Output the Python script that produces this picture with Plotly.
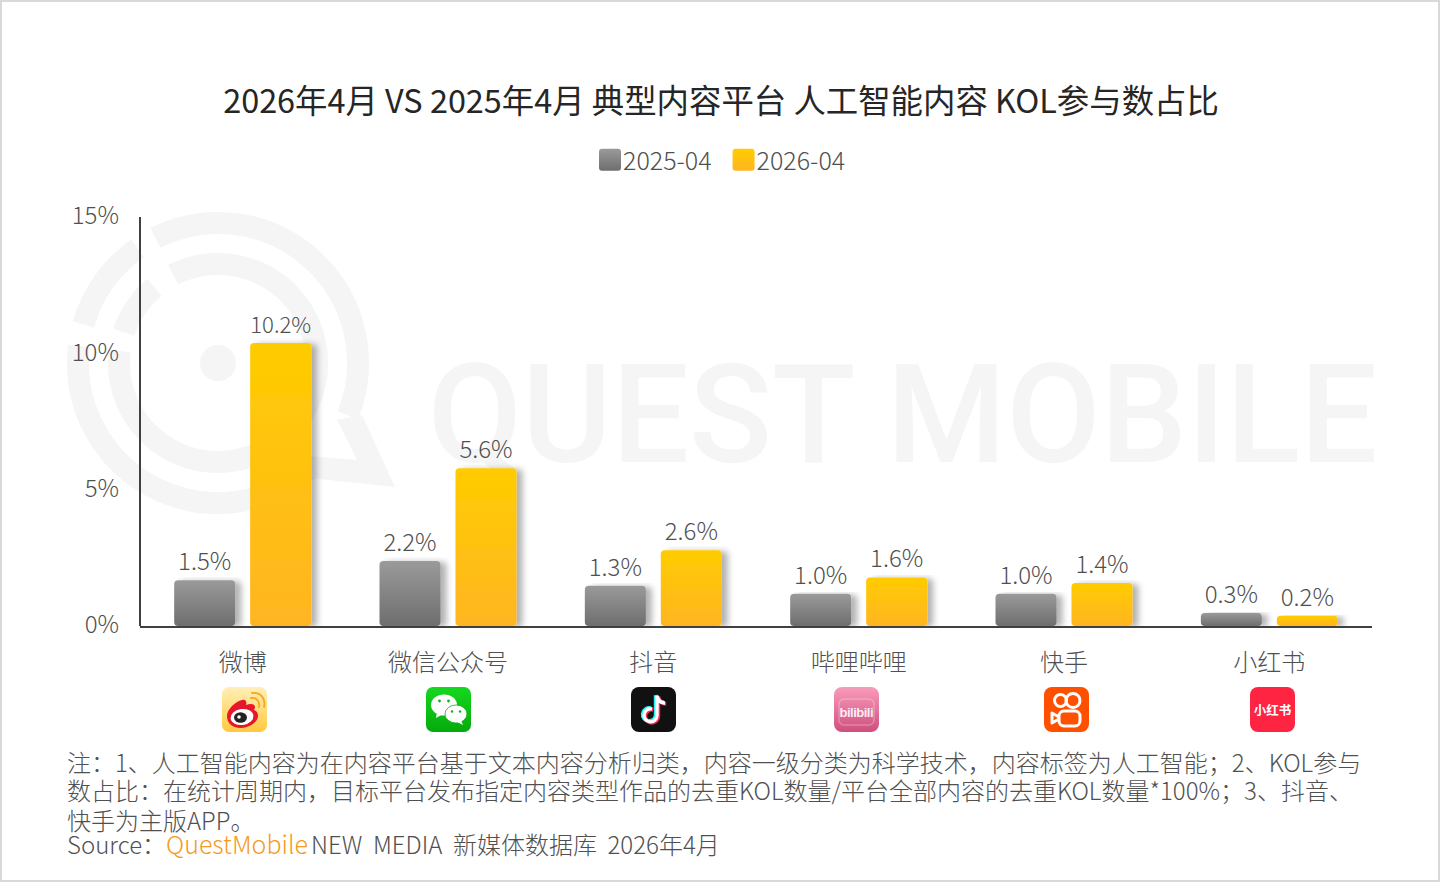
import base64
import math
import plotly.graph_objects as go

categories = ["微博", "微信公众号", "抖音", "哔哩哔哩", "快手", "小红书"]
values_2025 = [1.5, 2.2, 1.3, 1.0, 1.0, 0.3]
values_2026 = [10.2, 5.6, 2.6, 1.6, 1.4, 0.2]
series_names = ["2025-04", "2026-04"]
y_ticks = [0, 5, 10, 15]
y_tick_labels = ["0%", "5%", "10%", "15%"]

title_text = "2026年4月 VS 2025年4月 典型内容平台 人工智能内容 KOL参与数占比"
note_lines = [
    "注：1、人工智能内容为在内容平台基于文本内容分析归类，内容一级分类为科学技术，内容标签为人工智能；2、KOL参与",
    "数占比：在统计周期内，目标平台发布指定内容类型作品的去重KOL数量/平台全部内容的去重KOL数量*100%；3、抖音、",
    "快手为主版APP。",
]
source_parts = ["Source：", "QuestMobile", "NEW  MEDIA  新媒体数据库  2026年4月"]

W, H = 1440, 882
ML, MR, MT, MB = 140, 68, 212, 256
PW, PH = W - ML - MR, H - MT - MB
AXIS_FLOOR = -0.18
FONT = "Noto Sans CJK SC"
TXT = "#505050"


def px(x):
    return (x - ML) / PW


def py(y):
    return (H - MB - y) / PH


def uri(svg):
    return "data:image/svg+xml;base64," + base64.b64encode(svg.encode("utf-8")).decode()


def icon(body, defs=""):
    return uri(f'<svg xmlns="http://www.w3.org/2000/svg" width="180" height="180" viewBox="0 0 45 45"><defs>{defs}</defs>{body}</svg>')


icons = [
    icon('<rect width="45" height="45" rx="7" fill="url(#a)"/>'
         '<path d="M5 29c0-7 9-15 15-16 4-1 5 2 4 5 5-2 9-1 9 2 0 2-1 2-1 3 3 1 4 3 4 6 0 6-9 12-17 12-8 0-14-4-14-12z" fill="#E6162D"/>'
         '<ellipse cx="20" cy="30" rx="11.5" ry="8" fill="#fff" transform="rotate(-8 20 30)"/>'
         '<ellipse cx="18.5" cy="30.5" rx="6.5" ry="5.2" fill="#222"/><circle cx="17" cy="30" r="1.8" fill="#fff"/>'
         '<path d="M29 11c6-1 9 4 8 9M30 6c9-1 14 6 12 14" fill="none" stroke="#F5A623" stroke-width="1.8" stroke-linecap="round"/>',
         '<linearGradient id="a" x1="0" y1="0" x2="0" y2="1"><stop offset="0" stop-color="#FFEFB8"/><stop offset="1" stop-color="#FFC93C"/></linearGradient>'),
    icon('<rect width="45" height="45" rx="7" fill="url(#a)"/>'
         '<ellipse cx="18" cy="18" rx="13" ry="10.5" fill="#fff"/><path d="M11 25l-1 6 7-4z" fill="#fff"/>'
         '<ellipse cx="30" cy="27" rx="11" ry="9" stroke="#12B312" stroke-width="0.8" fill="#fff"/><path d="M35 33l2 5-6-3z" fill="#fff"/>'
         '<circle cx="13.5" cy="14" r="1.4" fill="#12B312"/><circle cx="22.5" cy="14" r="1.4" fill="#12B312"/>'
         '<circle cx="26" cy="24.5" r="1.2" fill="#12B312"/><circle cx="34" cy="24.5" r="1.2" fill="#12B312"/>',
         '<linearGradient id="a" x1="0" y1="0" x2="0" y2="1"><stop offset="0" stop-color="#16D81F"/><stop offset="1" stop-color="#04AA0C"/></linearGradient>'),
    icon('<rect width="45" height="45" rx="8" fill="#111"/>'
         '<path d="M21 22a6.5 6.5 0 1 0 5 6.5V9c1 4 4 7 8 7" fill="none" stroke="#25F4EE" stroke-width="4" transform="translate(-1.2 -0.8)"/>'
         '<path d="M21 22a6.5 6.5 0 1 0 5 6.5V9c1 4 4 7 8 7" fill="none" stroke="#FE2C55" stroke-width="4" transform="translate(1.2 0.8)"/>'
         '<path d="M21 22a6.5 6.5 0 1 0 5 6.5V9c1 4 4 7 8 7" fill="none" stroke="#fff" stroke-width="3.4"/>'),
    icon('<rect width="45" height="45" rx="8" fill="url(#a)"/>'
         '<rect x="5" y="12" width="35" height="26" rx="5" fill="none" stroke="#fff" stroke-opacity="0.25" stroke-width="1.5"/>'
         '<text x="22.5" y="30" text-anchor="middle" font-family="Liberation Sans" font-weight="bold" font-size="13" fill="#fff" fill-opacity="0.9" textLength="34">bilibili</text>',
         '<linearGradient id="a" x1="0" y1="0" x2="0" y2="1"><stop offset="0" stop-color="#F99BBB"/><stop offset="1" stop-color="#CF4F7E"/></linearGradient>'),
    icon('<rect width="45" height="45" rx="8" fill="#FF5000"/>'
         '<circle cx="16.5" cy="13.5" r="6" fill="none" stroke="#fff" stroke-width="3"/>'
         '<circle cx="29" cy="13.5" r="7" fill="none" stroke="#fff" stroke-width="3"/>'
         '<rect x="15" y="24" width="21" height="15" rx="5" fill="none" stroke="#fff" stroke-width="3"/>'
         '<path d="M15 30l-7-4v10l7-4" fill="none" stroke="#fff" stroke-width="3" stroke-linejoin="round"/>'),
    icon('<rect width="45" height="45" rx="8" fill="#FF2442"/>'
         '<text x="22.5" y="27.5" text-anchor="middle" font-family="Noto Sans CJK SC" font-weight="bold" font-size="12.5" fill="#fff">小红书</text>'),
]
icon_lefts = [222, 426, 631, 834, 1044, 1250]

# Faint Q-shaped brand mark behind the plot (page pixel coordinates inside the SVG)
wm = "#F5F5F5"
CX, CY = 218, 363


def arc(r, a0, a1):
    p0 = (CX + r * math.sin(math.radians(a0)), CY - r * math.cos(math.radians(a0)))
    p1 = (CX + r * math.sin(math.radians(a1)), CY - r * math.cos(math.radians(a1)))
    large = 1 if (a1 - a0) > 180 else 0
    return f'<path d="M{p0[0]:.1f} {p0[1]:.1f}A{r} {r} 0 {large} 1 {p1[0]:.1f} {p1[1]:.1f}"/>'


watermark_svg = (
    f'<svg xmlns="http://www.w3.org/2000/svg" width="{W}" height="{H}" viewBox="0 0 {W} {H}">'
    f'<g fill="none" stroke="{wm}" stroke-width="22">'
    + arc(140, -26.6, 112) + arc(140, 136, 277) + arc(140, -74, -35)
    + arc(99, -27, 180) + arc(99, 180, 277) + arc(99, -72, -40)
    + '</g>'
    f'<path d="M337 420L357 460 308 456 310 478 395 487 362 415z" fill="{wm}"/>'
    f'<circle cx="{CX}" cy="{CY}" r="18" fill="{wm}"/></svg>'
)

images = [dict(source=uri(watermark_svg), xref="paper", yref="paper", x=px(0), y=py(0),
               sizex=W / PW, sizey=H / PH, xanchor="left", yanchor="top", layer="below", sizing="stretch")]
for src, left in zip(icons, icon_lefts):
    images.append(dict(source=src, xref="paper", yref="paper", x=px(left), y=py(687),
                       sizex=45 / PW, sizey=45 / PH, xanchor="left", yanchor="top", layer="above", sizing="stretch"))

fig = go.Figure()
for name, vals, col in zip(series_names, [values_2025, values_2026], ["#858585", "#FFC20F"]):
    fig.add_trace(go.Bar(
        name=name, x=categories, y=[v - AXIS_FLOOR for v in vals], base=AXIS_FLOOR,
        marker=dict(color=col, line_width=0),
        text=[f"{v:.1f}%" for v in vals], textposition="outside", cliponaxis=False,
        textfont=dict(family=FONT, size=24, color=TXT, weight=300),
        hoverinfo="skip",
    ))

note_font = dict(family=FONT, size=24, color=TXT, weight=300)
annotations = [dict(text=t, xref="paper", yref="paper", x=px(65), y=py(yy), xanchor="left", yanchor="middle",
                    showarrow=False, align="left", font=note_font)
               for t, yy in zip(note_lines, [761, 789, 819])]
annotations += [
    dict(text=source_parts[0], xref="paper", yref="paper", x=px(65), y=py(843), xanchor="left", yanchor="middle",
         showarrow=False, font=note_font),
    dict(text=source_parts[1], xref="paper", yref="paper", x=px(164), y=py(843), xanchor="left", yanchor="middle",
         showarrow=False, font=dict(family=FONT, size=25, color="#F59A23", weight=300)),
    dict(text=source_parts[2], xref="paper", yref="paper", x=px(309), y=py(843), xanchor="left", yanchor="middle",
         showarrow=False, font=note_font),
]

shapes = [
    dict(type="rect", xref="paper", yref="paper", x0=px(1), x1=px(W - 1), y0=py(1), y1=py(H - 1),
         line=dict(color="#D9D9D9", width=2), fillcolor="rgba(0,0,0,0)", layer="below"),
    dict(type="rect", xref="paper", yref="paper", x0=px(420), x1=px(1385), y0=py(357), y1=py(452),
         line_width=0, fillcolor="rgba(0,0,0,0)", layer="below",
         label=dict(text="QUEST MOBILE", textposition="middle center",
                    font=dict(family="Roboto", size=137, color=wm, weight=500))),
    dict(type="line", xref="paper", yref="y", x0=0, x1=0, y0=AXIS_FLOOR, y1=14.82,
         line=dict(color="#404040", width=2)),
]

fig.update_layout(
    width=W, height=H, autosize=False,
    margin=dict(l=ML, r=MR, t=MT, b=MB, pad=0),
    paper_bgcolor="white", plot_bgcolor="rgba(0,0,0,0)",
    barmode="group", bargap=0.26, bargroupgap=0.197, barcornerradius=4,
    title=dict(text=title_text, x=721 / W, xanchor="center", y=1 - 102 / H, yanchor="middle",
               font=dict(family=FONT, size=32.4, color="#262626", weight=400)),
    legend=dict(orientation="h", x=px(590), y=py(160), xanchor="left", yanchor="middle",
                font=dict(family=FONT, size=25, color=TXT, weight=300), itemwidth=30,
                bgcolor="rgba(0,0,0,0)", traceorder="normal"),
    xaxis=dict(type="category", categoryorder="array", categoryarray=categories,
               showline=True, linecolor="#404040", linewidth=2, showgrid=False, zeroline=False,
               ticks="", ticklabelstandoff=14, tickfont=dict(family=FONT, size=24, color=TXT, weight=300)),
    yaxis=dict(range=[AXIS_FLOOR, 15], tickvals=y_ticks, ticktext=y_tick_labels,
               showline=False, showgrid=False, zeroline=False, ticks="", ticklabelstandoff=20,
               ticklabelshift=4, tickfont=dict(family=FONT, size=24, color=TXT, weight=300)),
    images=images, annotations=annotations, shapes=shapes,
)

post_script = """
document.body.style.margin = '0';
document.documentElement.style.overflow = 'hidden';
var gd = document.getElementById('{plot_id}');
var defs = gd.querySelector('.main-svg defs');
defs.insertAdjacentHTML('beforeend',
 '<linearGradient id="gradGray" x1="0" y1="0" x2="0" y2="1"><stop offset="0" stop-color="#9A9A9A"/><stop offset="1" stop-color="#6E6E6E"/></linearGradient>' +
 '<linearGradient id="gradGold" x1="0" y1="0" x2="0" y2="1"><stop offset="0" stop-color="#FFCC00"/><stop offset="1" stop-color="#FFB522"/></linearGradient>' +
 '<filter id="barShadow" x="-10%" y="-5%" width="140%" height="110%"><feDropShadow dx="6" dy="1" stdDeviation="3" flood-color="#000" flood-opacity="0.3"/></filter>');
var grads = ['url(#gradGray)', 'url(#gradGold)'];
gd.querySelectorAll('.barlayer .trace').forEach(function (t, i) {
  t.querySelectorAll('.point path').forEach(function (p) {
    p.style.fill = grads[i];
    p.style.filter = 'url(#barShadow)';
  });
});
gd.querySelectorAll('.legend .traces').forEach(function (t, i) {
  t.querySelectorAll('.legendpoints path').forEach(function (p) {
    p.setAttribute('d', 'M-8,-11H8A3,3 0 0 1 11,-8V8A3,3 0 0 1 8,11H-8A3,3 0 0 1 -11,8V-8A3,3 0 0 1 -8,-11Z');
    p.style.fill = grads[i];
    p.style.stroke = 'none';
  });
  var lt = t.querySelector('.legendtext');
  lt.setAttribute('x', parseFloat(lt.getAttribute('x')) - 7);
});
"""

fig.write_html("out.html", post_script=post_script, config=dict(displayModeBar=False))
